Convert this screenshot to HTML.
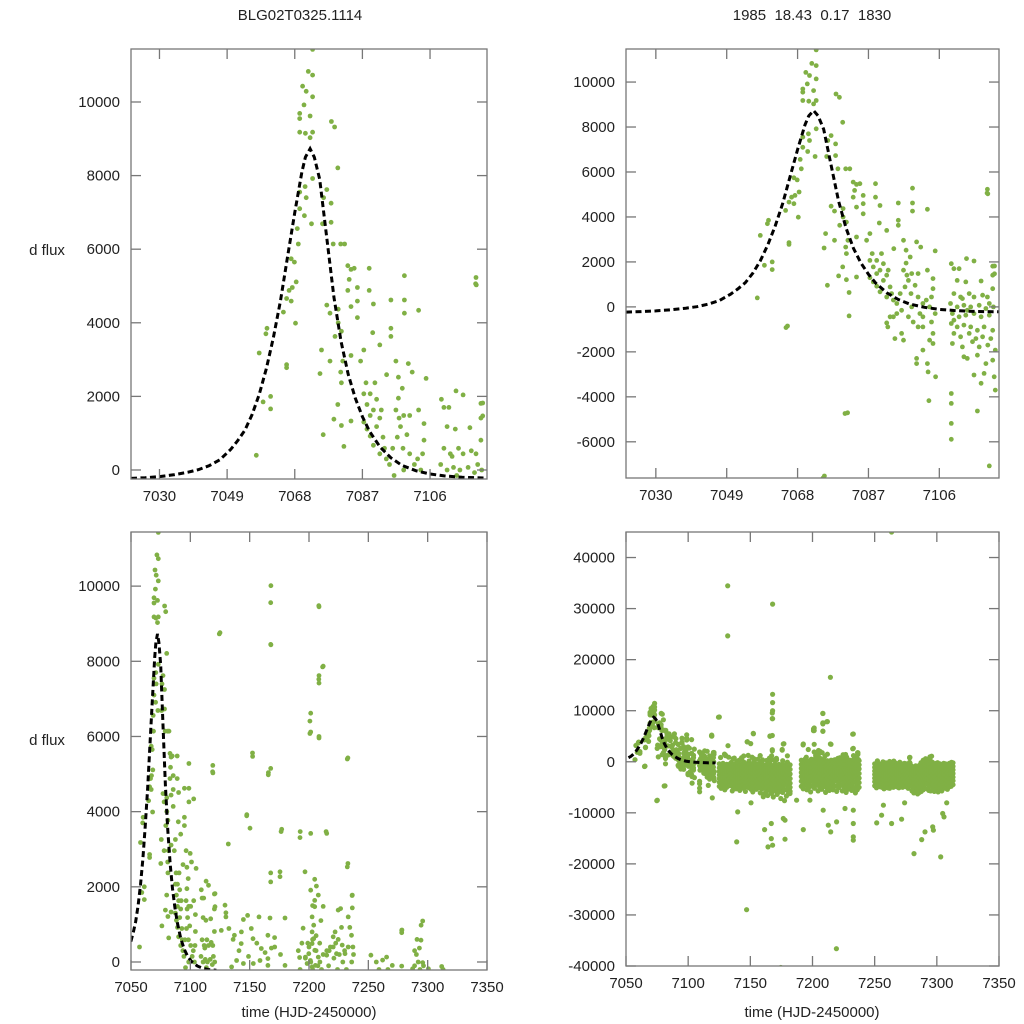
<!DOCTYPE html>
<html><head><meta charset="utf-8">
<style>
html,body{margin:0;padding:0;background:#fff;}
svg{display:block;font-family:"Liberation Sans",sans-serif;}
</style></head>
<body>
<svg id="chart" width="1024" height="1024" viewBox="0 0 1024 1024" xmlns="http://www.w3.org/2000/svg">
<text x="300" y="20" font-size="15" text-anchor="middle" fill="#222">BLG02T0325.1114</text>
<text x="812" y="20" font-size="15" text-anchor="middle" fill="#222" xml:space="preserve">1985  18.43  0.17  1830</text>
<text x="47" y="255" font-size="15" text-anchor="middle" fill="#222">d flux</text>
<text x="47" y="745" font-size="15" text-anchor="middle" fill="#222">d flux</text>
<text x="309" y="1017" font-size="15" text-anchor="middle" fill="#222">time (HJD-2450000)</text>
<text x="812" y="1017" font-size="15" text-anchor="middle" fill="#222">time (HJD-2450000)</text>
</svg>
<script>
// ---- data ----
const peakPoints = [
[7073,11430],[7071.8,10830],[7073,10730],[7070.2,10430],[7071.2,10290],[7073,10140],[7070.6,9920],[7069.4,9690],[7069.4,9550],[7072.3,9620],[7073,9180],[7069.4,9180],[7071,9150],[7072.3,9030],[7078.3,9470],[7079.2,9320],[7073,7920],[7080.1,8210],[7069.4,7550],[7070.9,7700],[7071.2,7400],[7076.1,7400],[7077,7620],[7069.4,7100],[7070.7,6910],[7072.7,6690],[7078.2,7250],[7078.2,6730],[7075.8,6690],[7068.7,6560],[7069,6140],[7067,5740],[7067.9,5650],[7068.4,5110],[7067.3,4960],[7066.4,4880],[7068.2,3990],[7067,4590],[7060.2,3850],[7059.9,3700],[7065.7,4660],[7064.8,4290],[7058,3180],[7065.7,2860],[7065.7,2780],[7061.2,2000],[7059.1,1850],[7061.2,1660],[7057.2,400],[7064.9,-920],[7080.7,-4740],[7074.8,-7620],
[7078.8,6140],[7080.9,6140],[7082,6140],[7082.9,5550],[7083.8,5450],[7084.7,5480],[7083.3,5180],[7085.6,4960],[7082.9,4880],[7085.6,4590],[7083.8,4440],[7080.2,4370],[7077,4480],[7077.9,4260],[7080.2,4000],[7079.3,3630],[7081.1,3770],[7085.6,4140],[7088.9,5480],[7088.9,4880],[7090.1,4510],[7089.9,3730],[7095,4620],[7095,3850],[7095,3630],[7098.8,5280],[7098.8,4620],[7098.8,4260],[7102.8,4340],[7119,5030],[7075.5,3260],[7075.1,2620],[7077.9,2960],[7080.9,2660],[7081.5,2960],[7083.8,3110],[7081.1,2370],[7080.1,1780],[7079,1380],[7076,960],[7081.1,1210],[7081.8,640],[7081.8,-400],[7083.8,1330],[7087.4,3260],[7086.5,2960],[7088,2370],[7089.2,2070],[7090.5,2370],[7091.9,3400],[7093.8,2590],[7096.4,2960],[7097.1,2520],[7099.9,2890],[7101,2660],[7104.9,2490],[7102.8,1630],[7104.3,1260],[7104.3,810],[7102.5,300],[7103.4,0],[7103.9,-670],[7101.6,-890],[7103.4,-1480],[7104.3,-1630],[7102.8,-2520],[7103,-2890],[7105,-3110],[7103.2,-4170],[7099.9,-2290],[7099.9,-2520],[7096.4,-1480],[7095.9,-1180],[7094.1,-1410],[7092.2,-890],[7091.9,-710],[7092.8,-440],[7094.6,150],[7095.5,590],[7096.8,890],[7097.7,1180],[7098.6,1480],[7099.5,960],[7098.4,590],[7100.3,440],[7101.6,150],[7091,1180],[7089.2,1480],[7088.3,1780],[7087.4,2070],[7090.1,1630],[7091.9,1410],[7092.8,890],[7093.2,590],[7091.9,440],[7093.7,300],[7090.1,670],[7089.2,920],[7087.4,1300],[7088.3,1110],[7091,1920],[7092.3,1630],[7096.4,1630],[7097.3,1410],[7098.2,2220],[7097.1,1950],[7100.3,1480],[7094.6,-300],[7093.7,-440],[7095.9,-150],[7097.7,-440],[7099,-670],[7100.8,-300],[7098.6,0],[7100.3,-890],[7101.6,-440],[7103.9,440],[7104.9,-300],[7104.3,-1180],[7101.6,-1920],
[7109.2,1920],[7109.9,1700],[7111.3,1700],[7113.3,2150],[7115.3,2040],[7120.3,1810],[7120.3,1410],[7110.8,1180],[7113.1,1110],[7117.2,1150],[7109.9,590],[7111.7,440],[7114,590],[7115.3,440],[7117.6,520],[7118.9,440],[7120.3,810],[7109,150],[7110.8,0],[7112.6,70],[7114.4,0],[7116.7,70],[7118.5,-70],[7120.5,0],[7109.5,-300],[7111.3,-440],[7113.1,-370],[7115.3,-300],[7117.2,-440],[7119.4,-370],[7109.2,-740],[7110.8,-890],[7112.6,-810],[7114.4,-890],[7116.2,-1040],[7118,-890],[7120.3,-1040],[7109.9,-1180],[7111.7,-1330],[7114,-1180],[7115.8,-1410],[7117.6,-1330],[7119.8,-1410],[7109.5,-1630],[7112.2,-1780],[7114.9,-1550],[7116.7,-1780],[7119,-1700],[7121,-1920],[7112.6,-2220],[7113.5,-2290],[7116.2,-2150],[7118.5,-2520],[7120.3,-2370],[7115.3,-3030],[7118,-2960],[7120.7,-3110],[7117.2,-3400],[7121,-3700],[7109.2,-3850],[7109.2,-4290],[7109.2,-5180],[7109.2,-5890],[7116.2,-4630],[7119.4,-7070],[7109.9,-590],[7113.5,-150],[7119.4,150],[7112.2,370]
];
const latePoints = [
[7124.4,8730],[7167.7,9560],[7167.7,8450],[7208.4,9450],[7212,7870],[7208.4,7620],[7208.4,7420],[7201.4,6620],[7201.4,6120],[7208.4,6000],[7208.4,5960],[7232.3,5400],[7152.5,5470],[7167.7,5150],[7165.7,4980],[7118.8,5060],[7147.5,3890],[7150.3,3560],[7177,3530],[7192.4,3310],[7201.4,3420],[7214.9,3420],[7132,3140],[7232.3,2530],[7196.6,2400],[7167.7,2370],[7175.6,2400],[7175.6,2270],[7167.7,2130],[7204.8,2200],[7206.2,2020],[7201.4,1910],[7207.8,1780],[7204.8,1640],[7204.8,1470],[7212,1480],[7236.5,1780],[7236.5,1440],[7226.6,1420],[7224.6,1380],[7129.2,1510],[7120.8,1820],[7120.8,1470],[7130,1310],[7130,1200],[7144.7,1130],[7148.3,1240],[7157.9,1200],[7167.1,1170],[7179.8,1170],[7295.8,1090],[7278.1,840],[7278.1,780],[7294.4,580],[7293,370],[7227.4,920],[7234.4,920],[7235.8,710],[7220.4,670],[7224.6,600],[7132.5,890],[7126.1,840],[7143,800],[7151.4,890],[7152.8,620],[7159.8,360],[7165.4,710],[7168.3,370],[7171.1,400],[7137.1,710],[7142.9,490],[7252.2,180],[7265.4,130],[7256.7,0],[7270.2,-90],[7278.1,-110],[7287.3,-180],[7295.8,-20],[7300.6,-180],[7311.8,-120],[7192.1,120],[7179.8,-90],[7139,40],[7144.7,-40],[7153.1,-40],[7158.7,40],[7134.8,-130],[7165.4,90],[7165.4,-90],[7220.4,400],[7223.2,220],[7230.3,220],[7214.9,180],
[7202.6,1200],[7204,980],[7202.6,800],[7204,620],[7202.6,490],[7204.9,310],[7199.8,220],[7197,130],[7207.8,130],[7201.2,40],[7209.2,0],[7198.4,-40],[7205.4,-90],[7202.6,-130],
[7136,600],[7141,300],[7149,150],[7156,500],[7163,250],[7171,650],[7176,200],[7195,900],[7199,500],[7203,1500],[7206,700],[7210,1100],[7217,300],[7222,800],[7228,450],[7233,1200],[7237,400],[7262,50],[7289,300],[7291,600]
];
const outlierPoints = [
[7131.8,34470],[7131.8,24660],[7167.9,30870],[7263.6,45000],[7214.4,16550],[7167.9,13210],[7167.9,11580],[7167.9,10010],[7167.9,8440],[7125,8760],[7208.3,9480],[7211.5,7850],[7208.3,7520],[7200.8,6410],[7200.8,6080],[7232.8,5430],[7152.4,5560],[7147.6,3920],[7165.8,5040],[7118.9,5230],[7214.4,3470],[7176.5,3470],[7192.6,3470],[7232.8,2620],[7236.3,1770],[7278.3,850],[7294.5,980],[7065.3,-850],[7075.2,-7520],[7081.4,-4710],[7139.8,-9810],[7139,-15700],[7147,-28970],[7219.2,-36620],[7174.5,-40300],[7161.5,-13280],[7166.9,-12100],[7166.9,-15040],[7164.2,-16680],[7167.9,-16350],[7177.9,-15170],[7176.5,-11120],[7177.9,-11450],[7192.6,-13280],[7212.7,-12430],[7214.6,-13730],[7219.4,-11770],[7232.8,-12100],[7232.8,-14710],[7232.8,-15370],[7232.8,-9480],[7251.6,-11970],[7263.6,-12100],[7271.7,-11250],[7281.6,-17980],[7287.8,-15240],[7290.5,-13730],[7296.7,-12750],[7297.2,-13400],[7303.1,-18640],[7305.8,-10790],[7304.7,-10140],[7307.9,-8040],[7255.6,-10460],[7257,-8500],[7274.1,-8040],[7226.1,-9160],[7208.6,-9480],[7197.9,-7520],[7187.2,-7520],[7150.5,-8040],[7160.4,-6870],[7181.9,-6210]
];
const bandTimes = [7125,7126.5,7128,7129.5,7131,7132.5,7134,7135.5,7137,7138.5,7140,7141.5,7143,7144.5,7146,7147.5,7149,7150.5,7152,7153.5,7155,7156.5,7158,7159.5,7161,7162.5,7164,7165.5,7167,7168.5,7170,7171.5,7173,7174.5,7176,7177.5,7179,7180.5,7182,
7191,7192.5,7194,7195.5,7197,7198.5,7200,7201.5,7203,7204.5,7206,7207.5,7209,7210.5,7212,7213.5,7215,7216.5,7218,7219.5,7221,7222.5,7224,7225.5,7227,7228.5,7230,7231.5,7233,7234.5,7236,7237.5,
7250,7251.5,7253,7254.5,7256,7257.5,7259,7260.5,7262,7263.5,7265,7266.5,7268,7269.5,7271,7272.5,7274,7275.5,7277,7278.5,7280,7281.5,7283,7284.5,7286,7287.5,7289,7290.5,7292,7293.5,7295,7296.5,7298,7299.5,7301,7302.5,7304,7305.5,7307,7308.5,7310,7311.5,7313];
const bandFlux = [
[-400,-1200,-1900,-2600,-3300,-4000,-4800],[-700,-1500,-2200,-2900,-3600,-4400,-5200],[-300,-1100,-1800,-2500,-3100,-3800,-4500],[-900,-1600,-2400,-3100,-3900,-4700,-5500],[-500,-1300,-2000,-2800,-3500,-4200,-5000],[-600,-1400,-2100,-2700,-3400,-4100,-4700],[-350,-1000,-1700,-2400,-3200,-3900,-4600],[-800,-1600,-2500,-3200,-4000,-4800,-5700],[-450,-1200,-2000,-2700,-3500,-4300,-5000],[-600,-1400,-2200,-2900,-3700,-4500,-5300],[-300,-1000,-1800,-2600,-3400,-4100,-4900],[-750,-1600,-2400,-3200,-4000,-4800,-5600],[-500,-1200,-1900,-2600,-3300,-4000,-4700],[-400,-1300,-2100,-2900,-3700,-4500,-5200],[-850,-1700,-2500,-3300,-4100,-4900,-5800],[-350,-1100,-1900,-2700,-3400,-4100,-4800],[-550,-1300,-2100,-2800,-3600,-4300,-5100],[-450,-1200,-2000,-2800,-3700,-4500,-5400],[-800,-1600,-2400,-3200,-4000,-4900,-5900],[-300,-1100,-1900,-2700,-3500,-4200,-5000],[-600,-1400,-2200,-3000,-3800,-4600,-5400],[-450,-1200,-2000,-2700,-3500,-4200,-4900],[-900,-1800,-2600,-3400,-4300,-5100,-6100],[-400,-1200,-2000,-2900,-3700,-4500,-5300],[-650,-1500,-2300,-3200,-4000,-4900,-6300],[-950,-1800,-2700,-3500,-4400,-5200,-6000],[-500,-1300,-2200,-3100,-4000,-5000,-6600],[-300,-1200,-2000,-2900,-3800,-4700,-5600],[-700,-1600,-2500,-3400,-4300,-5200,-6200],[-900,-1800,-2700,-3600,-4500,-5500,-6900],[-450,-1300,-2200,-3100,-4000,-4800,-5700],[-700,-1600,-2500,-3400,-4300,-5300,-6400],[-500,-1300,-2200,-3100,-4000,-4900,-5900],[-1000,-1900,-2800,-3700,-4600,-5600,-7200],[-400,-1300,-2200,-3100,-4000,-5000,-6000],[-650,-1500,-2400,-3300,-4300,-5400,-7600],[-800,-1700,-2600,-3600,-4500,-5500,-6700],[-550,-1400,-2300,-3200,-4100,-5100,-6300],[-600,-1500,-2400,-3300,-4200,-5000,-5800],
[300,-500,-1300,-2100,-2900,-3800,-4800],[-200,-1000,-1800,-2600,-3400,-4300,-5300],[500,-300,-1100,-1900,-2700,-3600,-4600],[-300,-1100,-1900,-2700,-3500,-4400,-5500],[100,-700,-1500,-2300,-3200,-4100,-5000],[-400,-1200,-2000,-2900,-3800,-4800,-5900],[400,-400,-1200,-2000,-2900,-3800,-4700],[0,-800,-1600,-2400,-3300,-4200,-5200],[600,-200,-1000,-1800,-2700,-3600,-4500],[-300,-1100,-1900,-2800,-3700,-4600,-5700],[300,-500,-1300,-2200,-3100,-4100,-5100],[-100,-900,-1700,-2600,-3500,-4400,-5400],[500,-300,-1100,-2000,-2900,-3900,-4900],[-200,-1000,-1800,-2700,-3600,-4700,-6000],[200,-600,-1400,-2300,-3200,-4200,-5300],[-300,-1100,-1900,-2800,-3700,-4600,-5600],[300,-500,-1300,-2100,-3000,-4000,-5000],[-100,-900,-1700,-2600,-3500,-4500,-5500],[400,-400,-1200,-2000,-2900,-3800,-4800],[-400,-1200,-2000,-2900,-3800,-4800,-5800],[100,-700,-1500,-2400,-3300,-4200,-5100],[500,-300,-1100,-1900,-2800,-3700,-4600],[-200,-1000,-1800,-2700,-3600,-4600,-5700],[200,-600,-1400,-2300,-3200,-4200,-5200],[-500,-1300,-2100,-3000,-3900,-4900,-6000],[0,-800,-1600,-2500,-3400,-4400,-5400],[300,-500,-1300,-2200,-3100,-4000,-4900],[-200,-1000,-1800,-2700,-3600,-4600,-5600],[400,-400,-1200,-2100,-3000,-4100,-5300],[-400,-1200,-2000,-2900,-3900,-5000,-6100],[0,-800,-1600,-2500,-3400,-4400,-5500],[200,-600,-1400,-2300,-3200,-4100,-5000],
[-400,-1100,-1800,-2500,-3200,-3900,-4700],[-700,-1400,-2100,-2800,-3500,-4300,-5100],[-300,-1000,-1700,-2400,-3100,-3800,-4600],[-500,-1200,-1900,-2600,-3300,-4100,-4900],[-400,-1100,-1800,-2600,-3400,-4200,-5000],[-800,-1500,-2200,-2900,-3600,-4400,-5300],[-200,-900,-1600,-2300,-3000,-3800,-4600],[-500,-1200,-1900,-2700,-3500,-4300,-5100],[-600,-1300,-2000,-2800,-3600,-4400,-5200],[-300,-1000,-1700,-2500,-3300,-4000,-4800],[-500,-1200,-1900,-2700,-3400,-4200,-5000],[-200,-900,-1600,-2300,-3000,-3700,-4500],[-400,-1100,-1800,-2600,-3400,-4200,-4900],[-700,-1400,-2100,-2800,-3500,-4300,-5100],[-300,-1000,-1700,-2400,-3200,-4000,-4700],[-500,-1200,-2000,-2700,-3400,-4200,-5000],[-300,-1000,-1800,-2500,-3300,-4000,-4800],[-400,-1100,-1800,-2600,-3300,-4100,-4900],[-600,-1300,-2000,-2800,-3600,-4400,-5200],[-300,-1000,-1700,-2400,-3200,-3900,-4600],[-900,-1600,-2300,-3100,-3900,-4800,-5700],[-1200,-1900,-2700,-3500,-4300,-5200,-6100],[-800,-1600,-2400,-3200,-4100,-5000,-5900],[-1300,-2100,-2900,-3700,-4500,-5400,-6300],[-700,-1500,-2300,-3100,-4000,-5000,-6000],[-300,-1100,-1900,-2800,-3700,-4700,-5800],[-100,-900,-1700,-2600,-3500,-4500,-5500],[200,-600,-1400,-2300,-3200,-4200,-5200],[0,-800,-1600,-2500,-3400,-4300,-5300],[-200,-1000,-1800,-2700,-3600,-4600,-5600],[-400,-1200,-2000,-2900,-3800,-4700,-5700],[-100,-900,-1700,-2600,-3500,-4400,-5400],[-500,-1300,-2100,-3000,-3900,-4800,-5800],[-300,-1100,-1900,-2800,-3700,-4600,-5500],[-700,-1500,-2300,-3200,-4100,-5000,-5900],[-400,-1100,-1900,-2700,-3500,-4400,-5300],[-600,-1300,-2100,-3000,-3900,-4800,-5700],[-300,-1000,-1800,-2600,-3400,-4200,-5100],[-400,-1200,-1900,-2700,-3500,-4300,-5200],[-700,-1400,-2200,-3000,-3700,-4500,-5400],[-300,-1000,-1700,-2500,-3300,-4100,-4900],[-500,-1200,-1900,-2600,-3300,-4000,-4800],[-200,-900,-1600,-2300,-3000,-3700,-4500]
];
const modelTimes = [7022,7026,7030,7034,7038,7041,7044,7047,7050,7052,7054,7056,7058,7060,7062,7064,7066,7068,7070,7071,7072.3,7073.5,7075,7077,7079,7081,7083,7085,7087,7089,7092,7095,7098,7102,7106,7110,7115,7122];
const modelFlux = [-230,-210,-180,-130,-60,10,120,280,560,800,1080,1500,2050,2750,3600,4600,5800,7000,8100,8500,8730,8500,7900,6300,4700,3500,2600,1950,1450,1050,620,330,130,-20,-110,-160,-200,-220];
const topXTicks = [7030,7049,7068,7087,7106];
const bottomXTicks = [7050,7100,7150,7200,7250,7300,7350];
const tlYTicks = [0,2000,4000,6000,8000,10000];
const trYTicks = [-6000,-4000,-2000,0,2000,4000,6000,8000,10000];
const blYTicks = [0,2000,4000,6000,8000,10000];
const brYTicks = [-40000,-30000,-20000,-10000,0,10000,20000,30000,40000];

// ---- drawing ----
const NS = 'http://www.w3.org/2000/svg';
const svg = document.getElementById('chart');
const allPoints = [];
peakPoints.forEach(p => allPoints.push(p));
latePoints.forEach(p => allPoints.push(p));
outlierPoints.forEach(p => allPoints.push(p));
bandTimes.forEach((t, i) => bandFlux[i].forEach(f => allPoints.push([t, f])));

const panels = [
  {id:'top-left', x0:131, x1:487, y0:49, y1:479, xmin:7022, xmax:7122, ymin:-245, ymax:11440, xt:topXTicks, yt:tlYTicks, r:2.4},
  {id:'top-right', x0:626, x1:999, y0:49, y1:478, xmin:7022, xmax:7122, ymin:-7610, ymax:11470, xt:topXTicks, yt:trYTicks, r:2.4},
  {id:'bottom-left', x0:131, x1:487, y0:532, y1:970, xmin:7050, xmax:7350, ymin:-213, ymax:11440, xt:bottomXTicks, yt:blYTicks, r:2.4},
  {id:'bottom-right', x0:626, x1:999, y0:532, y1:966, xmin:7050, xmax:7350, ymin:-40000, ymax:45000, xt:bottomXTicks, yt:brYTicks, r:2.6}
];

function mk(tag, attrs, parent) {
  const e = document.createElementNS(NS, tag);
  for (const k in attrs) e.setAttribute(k, attrs[k]);
  (parent || svg).appendChild(e);
  return e;
}

panels.forEach((P, pi) => {
  const sx = t => P.x0 + (t - P.xmin) / (P.xmax - P.xmin) * (P.x1 - P.x0);
  const sy = f => P.y1 - (f - P.ymin) / (P.ymax - P.ymin) * (P.y1 - P.y0);
  const g = mk('g', {});
  
  
  const defs = mk('defs', {}, g);
  const cp = mk('clipPath', {id: 'clip' + pi}, defs);
  mk('rect', {x: P.x0, y: P.y0, width: P.x1 - P.x0, height: P.y1 - P.y0}, cp);

  const pts = mk('g', {'clip-path': 'url(#clip' + pi + ')', fill: '#80b045'}, g);
  
  
  allPoints.forEach(p => {
    const cx = sx(p[0]), cy = sy(p[1]);
    if (cx < P.x0 - 4 || cx > P.x1 + 4 || cy < P.y0 - 4 || cy > P.y1 + 4) return;
    const c = mk('circle', {cx: cx.toFixed(1), cy: cy.toFixed(1), r: P.r}, pts);
    
    
  });

  let d = '';
  modelTimes.forEach((t, i) => { d += (i ? 'L' : 'M') + sx(t).toFixed(1) + ',' + sy(modelFlux[i]).toFixed(1); });
  const ml = mk('path', {d: d, fill: 'none', stroke: '#000', 'stroke-width': 3, 'stroke-dasharray': '6,3.5', 'clip-path': 'url(#clip' + pi + ')'}, g);
  
  

  const fr = mk('rect', {x: P.x0, y: P.y0, width: P.x1 - P.x0, height: P.y1 - P.y0, fill: 'none', stroke: '#777', 'stroke-width': 1.3}, g);
  
  

  P.xt.forEach(t => {
    const x = sx(t);
    mk('line', {x1: x, x2: x, y1: P.y1, y2: P.y1 - 10, stroke: '#777', 'stroke-width': 1.3}, g);
    mk('line', {x1: x, x2: x, y1: P.y0, y2: P.y0 + 10, stroke: '#777', 'stroke-width': 1.3}, g);
    const tx = mk('text', {x: x, y: P.y1 + 22, 'font-size': 15, 'text-anchor': 'middle', fill: '#222'}, g);
    tx.textContent = t;
    
    
  });
  P.yt.forEach(f => {
    const y = sy(f);
    mk('line', {x1: P.x0, x2: P.x0 + 10, y1: y, y2: y, stroke: '#777', 'stroke-width': 1.3}, g);
    mk('line', {x1: P.x1, x2: P.x1 - 10, y1: y, y2: y, stroke: '#777', 'stroke-width': 1.3}, g);
    const ty = mk('text', {x: P.x0 - 11, y: y + 5, 'font-size': 15, 'text-anchor': 'end', fill: '#222'}, g);
    ty.textContent = f;
    
    
  });
});
</script>
</body></html>
